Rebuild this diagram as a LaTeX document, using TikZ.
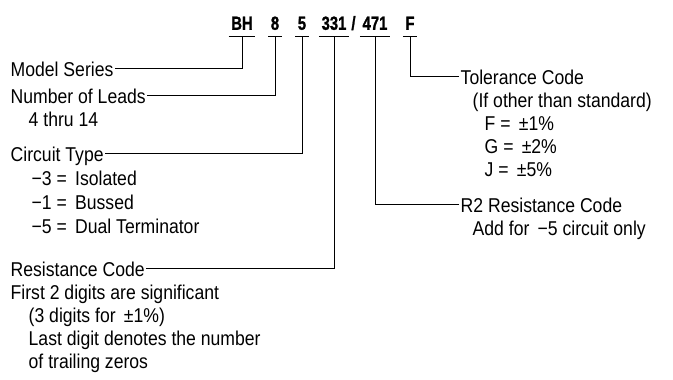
\documentclass[tikz,border=0pt]{standalone}
\usepackage{fontspec}
\setmainfont{Liberation Sans}[FakeStretch=0.88]
\newfontfamily\codefont{Liberation Sans Bold}[FakeStretch=0.78, FakeBold=1.2]
\begin{document}
\begin{tikzpicture}[x=1pt,y=-1pt,
  code/.style={font=\codefont\fontsize{19}{21}\selectfont, inner xsep=2.5pt, inner ysep=1pt, text height=14pt, text depth=5pt, anchor=south},
  lbl/.style={font=\fontsize{20}{22}\selectfont, inner xsep=1.5pt, inner ysep=0pt, text height=17pt, text depth=0pt, anchor=west},
  lead/.style={line width=0.9pt}]
  \useasboundingbox (0,0) rectangle (673,380);
  % part number
  \node[code] (bh) at (242,36) {BH};
  \node[code] (eight) at (275,36) {8};
  \node[code] (five) at (302,36) {5};
  \node[code] (rone) at (334,36) {331};
  \node[code, inner xsep=0pt] (slash) at (353.5,36) {/};
  \node[code] (rtwo) at (375,36) {471};
  \node[code] (tolf) at (410,36) {F};
  \foreach \n in {bh,eight,five,rone,rtwo,tolf}
    \draw[lead] (\n.south west) -- (\n.south east);
  % left side
  \node[lbl] (model) at (9,68) {Model Series};
  \node[lbl] (leads) at (9,95) {Number of Leads};
  \node[lbl] (leadsrange) at (27,118) {4 thru 14};
  \node[lbl] (ctype) at (9,153) {Circuit Type};
  \node[lbl] (ctiso) at (30,177) {−3 = \,Isolated};
  \node[lbl] (ctbus) at (30,201) {−1 = \,Bussed};
  \node[lbl] (ctdual) at (30,225) {−5 = \,Dual Terminator};
  \node[lbl] (rcode) at (9,268) {Resistance Code};
  \node[lbl] (rcfirst) at (9,291) {First 2 digits are significant};
  \node[lbl] (rcthree) at (27,314) {(3 digits for \,±1\%)};
  \node[lbl] (rclast) at (27,337) {Last digit denotes the number};
  \node[lbl] (rczeros) at (27,360) {of trailing zeros};
  % right side
  \node[lbl] (tol) at (459,76) {Tolerance Code};
  \node[lbl] (tolstd) at (471,99) {(If other than standard)};
  \node[lbl] (tolF) at (483,122) {F = \,±1\%};
  \node[lbl] (tolG) at (483,145) {G = \,±2\%};
  \node[lbl] (tolJ) at (483,168) {J = \,±5\%};
  \node[lbl] (rtwocode) at (459,204) {R2 Resistance Code};
  \node[lbl] (rtwoadd) at (471,227) {Add for \,−5 circuit only};
  % leaders
  \draw[lead] (model.east) -| (bh.south);
  \draw[lead] (leads.east) -| (eight.south);
  \draw[lead] (ctype.east) -| (five.south);
  \draw[lead] (rcode.east) -| (rone.south);
  \draw[lead] (rtwocode.west) -| (rtwo.south);
  \draw[lead] (tol.west) -| (tolf.south);
\end{tikzpicture}
\end{document}
